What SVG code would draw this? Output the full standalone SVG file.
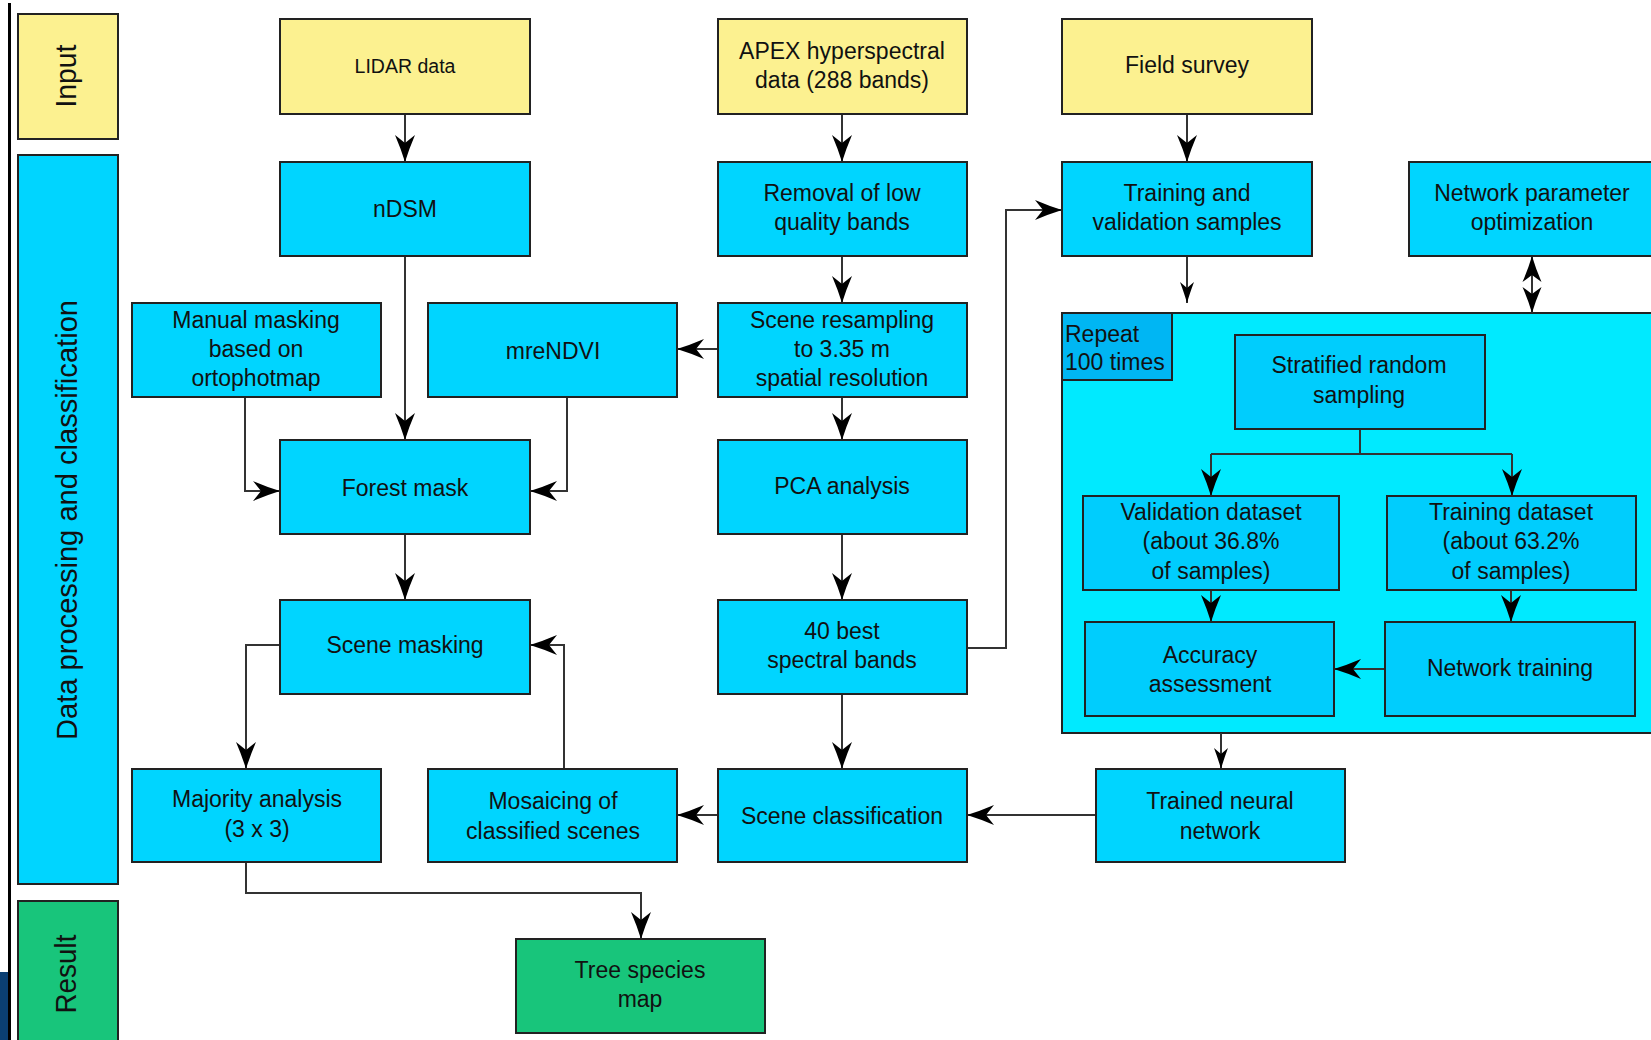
<svg xmlns="http://www.w3.org/2000/svg" width="1651" height="1040" viewBox="0 0 1651 1040">
<style>
.box{stroke:#222;stroke-width:2}
.in{fill:#fcf190}
.cy{fill:#00d5ff}
.ci{fill:#00cdfd}
.gr{fill:#18c57b}
.t{font-family:"Liberation Sans",Arial,sans-serif;font-size:23px;fill:#111;text-anchor:middle}
.lane{font-family:"Liberation Sans",Arial,sans-serif;font-size:30px;fill:#111;text-anchor:middle}
.c{fill:none;stroke:#333;stroke-width:2}
</style>
<defs>
<marker id="ah" viewBox="-29 -12 30 24" refX="0" refY="0" markerWidth="30" markerHeight="24" markerUnits="userSpaceOnUse" orient="auto">
<path d="M0,0 Q-13,-4 -27,-10 L-19,0 L-27,10 Q-13,4 0,0 Z" fill="#000"/>
</marker>
<marker id="ahs" viewBox="-23 -9 24 18" refX="0" refY="0" markerWidth="24" markerHeight="18" markerUnits="userSpaceOnUse" orient="auto">
<path d="M0,0 Q-9,-2.5 -21,-7 L-15,0 L-21,7 Q-9,2.5 0,0 Z" fill="#000"/>
</marker>
<marker id="ahd" viewBox="-29 -12 30 24" refX="0" refY="0" markerWidth="30" markerHeight="24" markerUnits="userSpaceOnUse" orient="auto-start-reverse">
<path d="M0,0 Q-12,-3.5 -26,-9.5 L-19,0 L-26,9.5 Q-12,3.5 0,0 Z" fill="#000"/>
</marker>
</defs>
<rect width="1651" height="1040" fill="#fff"/>
<rect x="0" y="972" width="8" height="68" fill="#0b3f73"/>
<rect x="8" y="3" width="3" height="1037" fill="#000"/>

<g id="lane-input">
<rect class="box in" x="18" y="14" width="100" height="125"/>
<text class="lane" transform="translate(76,76) rotate(-90)" textLength="63" lengthAdjust="spacingAndGlyphs">Input</text>
</g>
<g id="lane-processing">
<rect class="box cy" x="18" y="155" width="100" height="729"/>
<text class="lane" transform="translate(77,520) rotate(-90)" textLength="440" lengthAdjust="spacingAndGlyphs">Data processing and classification</text>
</g>
<g id="lane-result">
<rect class="box gr" x="18" y="901" width="100" height="150"/>
<text class="lane" transform="translate(76,974) rotate(-90)" textLength="79" lengthAdjust="spacingAndGlyphs">Result</text>
</g>

<g id="repeat-container">
<rect class="box" x="1062" y="313" width="600" height="420" fill="#00eaff"/>
<rect class="box" x="1062" y="313" width="110" height="67" fill="#00b6f3"/>
<text class="t" style="text-anchor:start" x="1065" y="342">Repeat</text>
<text class="t" style="text-anchor:start" x="1065" y="370">100 times</text>
</g>

<g id="connectors">
<path class="c" d="M405,114 V162" marker-end="url(#ah)"/>
<path class="c" d="M405,256 V440" marker-end="url(#ah)"/>
<path class="c" d="M245,397 V491 H280" marker-end="url(#ah)"/>
<path class="c" d="M567,397 V491 H530" marker-end="url(#ah)"/>
<path class="c" d="M405,534 V600" marker-end="url(#ah)"/>
<path class="c" d="M280,645 H246 V769" marker-end="url(#ah)"/>
<path class="c" d="M564,769 V645 H530" marker-end="url(#ah)"/>
<path class="c" d="M246,862 V893 H641 V939" marker-end="url(#ah)"/>
<path class="c" d="M842,114 V162" marker-end="url(#ah)"/>
<path class="c" d="M842,256 V303" marker-end="url(#ah)"/>
<path class="c" d="M718,349 H677" marker-end="url(#ah)"/>
<path class="c" d="M842,397 V440" marker-end="url(#ah)"/>
<path class="c" d="M842,534 V600" marker-end="url(#ah)"/>
<path class="c" d="M842,694 V769" marker-end="url(#ah)"/>
<path class="c" d="M967,648 H1006 V210 H1062" marker-end="url(#ah)"/>
<path class="c" d="M718,815 H677" marker-end="url(#ah)"/>
<path class="c" d="M1096,815 H967" marker-end="url(#ah)"/>
<path class="c" d="M1187,114 V162" marker-end="url(#ah)"/>
<path class="c" d="M1187,256 V303" marker-end="url(#ahs)"/>
<path class="c" d="M1532,256 V313" marker-start="url(#ahd)" marker-end="url(#ahd)"/>
<path class="c" d="M1221,733 V769" marker-end="url(#ahs)"/>
<path class="c" d="M1360,429 V454"/>
<path class="c" d="M1211,454 H1512"/>
<path class="c" d="M1211,454 V496" marker-end="url(#ah)"/>
<path class="c" d="M1512,454 V496" marker-end="url(#ah)"/>
<path class="c" d="M1211,590 V622" marker-end="url(#ah)"/>
<path class="c" d="M1511,590 V622" marker-end="url(#ah)"/>
<path class="c" d="M1385,669 H1334" marker-end="url(#ah)"/>
</g>

<g id="lidar">
<rect class="box in" x="280" y="19" width="250" height="95"/>
<text class="t" style="font-size:19.5px" x="405" y="73">LIDAR data</text>
</g>
<g id="apex">
<rect class="box in" x="718" y="19" width="249" height="95"/>
<text class="t" x="842" y="58.5">APEX hyperspectral</text>
<text class="t" x="842" y="88">data (288 bands)</text>
</g>
<g id="field-survey">
<rect class="box in" x="1062" y="19" width="250" height="95"/>
<text class="t" x="1187" y="73">Field survey</text>
</g>
<g id="ndsm">
<rect class="box cy" x="280" y="162" width="250" height="94"/>
<text class="t" x="405" y="217">nDSM</text>
</g>
<g id="removal">
<rect class="box cy" x="718" y="162" width="249" height="94"/>
<text class="t" x="842" y="200.7">Removal of low</text>
<text class="t" x="842" y="230.2">quality bands</text>
</g>
<g id="training-validation-samples">
<rect class="box cy" x="1062" y="162" width="250" height="94"/>
<text class="t" x="1187" y="200.7">Training and</text>
<text class="t" x="1187" y="230.2">validation samples</text>
</g>
<g id="network-parameter">
<rect class="box cy" x="1409" y="162" width="260" height="94"/>
<text class="t" x="1532" y="200.7">Network parameter</text>
<text class="t" x="1532" y="230.2">optimization</text>
</g>
<g id="manual-masking">
<rect class="box cy" x="132" y="303" width="249" height="94"/>
<text class="t" x="256" y="328">Manual masking</text>
<text class="t" x="256" y="356.5">based on</text>
<text class="t" x="256" y="386">ortophotmap</text>
</g>
<g id="mrendvi">
<rect class="box cy" x="428" y="303" width="249" height="94"/>
<text class="t" x="553" y="358.6">mreNDVI</text>
</g>
<g id="scene-resampling">
<rect class="box cy" x="718" y="303" width="249" height="94"/>
<text class="t" x="842" y="328">Scene resampling</text>
<text class="t" x="842" y="356.5">to 3.35 m</text>
<text class="t" x="842" y="386">spatial resolution</text>
</g>
<g id="forest-mask">
<rect class="box cy" x="280" y="440" width="250" height="94"/>
<text class="t" x="405" y="495.5">Forest mask</text>
</g>
<g id="pca">
<rect class="box cy" x="718" y="440" width="249" height="94"/>
<text class="t" x="842" y="494">PCA analysis</text>
</g>
<g id="scene-masking">
<rect class="box cy" x="280" y="600" width="250" height="94"/>
<text class="t" x="405" y="653.4">Scene masking</text>
</g>
<g id="best-bands">
<rect class="box cy" x="718" y="600" width="249" height="94"/>
<text class="t" x="842" y="638.7">40 best</text>
<text class="t" x="842" y="668.2">spectral bands</text>
</g>
<g id="majority">
<rect class="box cy" x="132" y="769" width="249" height="93"/>
<text class="t" x="257" y="807">Majority analysis</text>
<text class="t" x="257" y="836.6">(3 x 3)</text>
</g>
<g id="mosaicing">
<rect class="box cy" x="428" y="769" width="249" height="93"/>
<text class="t" x="553" y="809">Mosaicing of</text>
<text class="t" x="553" y="838.7">classified scenes</text>
</g>
<g id="scene-classification">
<rect class="box cy" x="718" y="769" width="249" height="93"/>
<text class="t" x="842" y="824">Scene classification</text>
</g>
<g id="trained-network">
<rect class="box cy" x="1096" y="769" width="249" height="93"/>
<text class="t" x="1220" y="809">Trained neural</text>
<text class="t" x="1220" y="838.7">network</text>
</g>
<g id="tree-species-map">
<rect class="box gr" x="516" y="939" width="249" height="94"/>
<text class="t" x="640" y="977.7">Tree species</text>
<text class="t" x="640" y="1007.2">map</text>
</g>
<g id="stratified">
<rect class="box ci" x="1235" y="335" width="250" height="94"/>
<text class="t" x="1359" y="373.4">Stratified random</text>
<text class="t" x="1359" y="402.8">sampling</text>
</g>
<g id="validation-dataset">
<rect class="box ci" x="1083" y="496" width="256" height="94"/>
<text class="t" x="1211" y="519.7">Validation dataset</text>
<text class="t" x="1211" y="549.2">(about 36.8%</text>
<text class="t" x="1211" y="578.7">of samples)</text>
</g>
<g id="training-dataset">
<rect class="box ci" x="1387" y="496" width="249" height="94"/>
<text class="t" x="1511" y="519.7">Training dataset</text>
<text class="t" x="1511" y="549.2">(about 63.2%</text>
<text class="t" x="1511" y="578.7">of samples)</text>
</g>
<g id="accuracy">
<rect class="box ci" x="1085" y="622" width="249" height="94"/>
<text class="t" x="1210" y="662.9">Accuracy</text>
<text class="t" x="1210" y="692.4">assessment</text>
</g>
<g id="network-training">
<rect class="box ci" x="1385" y="622" width="250" height="94"/>
<text class="t" x="1510" y="675.5">Network training</text>
</g>
</svg>
